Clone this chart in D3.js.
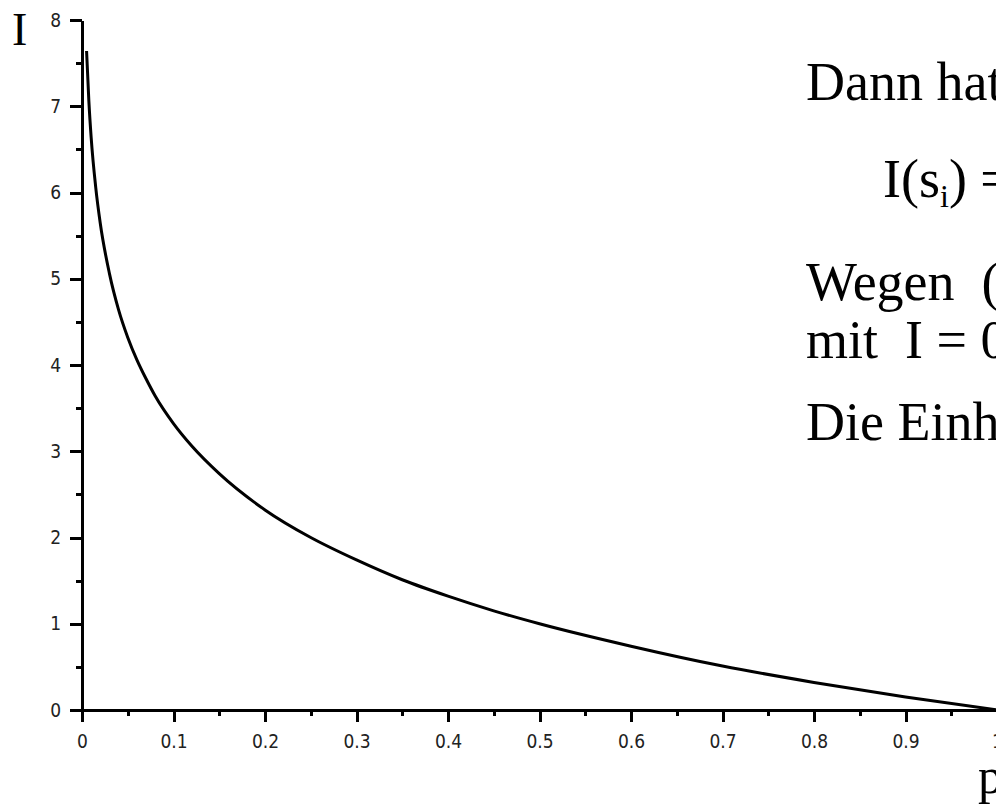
<!DOCTYPE html>
<html>
<head>
<meta charset="utf-8">
<script src="https://cdn.jsdelivr.net/npm/d3@7"></script>
<style>
body { margin: 0; background: #fff; }
.tick text { font-family: "DejaVu Sans Condensed", "DejaVu Sans", sans-serif; font-size: 19px; fill: #222; }
.serif { font-family: "Liberation Serif", "Times New Roman", serif; fill: #000; }
</style>
</head>
<body>
<svg id="chart" width="996" height="804"></svg>
<script>
// values (p, I)
var pValues = [0.005, 0.0075, 0.01, 0.015, 0.02, 0.03, 0.04, 0.05, 0.06, 0.07, 0.08, 0.1, 0.12, 0.15, 0.2, 0.25, 0.3, 0.35, 0.4, 0.45, 0.5, 0.6, 0.7, 0.8, 0.9, 1.0];
var infoValues = [7.64, 7.06, 6.64, 6.06, 5.64, 5.06, 4.64, 4.32, 4.06, 3.84, 3.64, 3.32, 3.06, 2.74, 2.32, 2.0, 1.74, 1.51, 1.32, 1.15, 1.0, 0.74, 0.51, 0.32, 0.15, 0];

var xTicks = [0, 0.1, 0.2, 0.3, 0.4, 0.5, 0.6, 0.7, 0.8, 0.9, 1];
var xMinorTicks = [0.05, 0.15, 0.25, 0.35, 0.45, 0.55, 0.65, 0.75, 0.85, 0.95];
var yTicks = [0, 1, 2, 3, 4, 5, 6, 7, 8];
var yMinorTicks = [0.5, 1.5, 2.5, 3.5, 4.5, 5.5, 6.5, 7.5];

var xTitle = "p";
var yTitle = "I";
// slide text on the right, cut off by the picture edge
var slideLines = ["Dann hat", "Wegen  (", "mit  I = 0", "Die Einh"];
var formulaParts = ["I(s", "i", ") ="];

var svg = d3.select("#chart");
svg.append("rect").attr("width", 996).attr("height", 804).attr("fill", "#fff");

var x = d3.scaleLinear().domain([0, 1]).range([82, 997]);
var y = d3.scaleLinear().domain([0, 8]).range([710, 20]);

// minor ticks first
svg.append("g")
  .attr("transform", "translate(0,710)")
  .call(d3.axisBottom(x).tickValues(xMinorTicks).tickSize(6).tickFormat(""))
  .call(function(g) { g.select(".domain").remove(); });
svg.append("g")
  .attr("transform", "translate(82,0)")
  .call(d3.axisLeft(y).tickValues(yMinorTicks).tickSize(6).tickFormat(""))
  .call(function(g) { g.select(".domain").remove(); });

var xAxis = svg.append("g")
  .attr("transform", "translate(0,710)")
  .call(d3.axisBottom(x).tickValues(xTicks).tickSize(12).tickSizeOuter(0).tickPadding(13)
    .tickFormat(function(d) { return d === 0 || d === 1 ? String(d) : d3.format(".1f")(d); }));
xAxis.select(".domain").attr("d", "M82,0H1000");

var yAxis = svg.append("g")
  .attr("transform", "translate(82,0)")
  .call(d3.axisLeft(y).tickValues(yTicks).tickSize(12).tickSizeOuter(0).tickPadding(9));

svg.selectAll(".tick line").attr("stroke", "#000").attr("stroke-width", 3).attr("shape-rendering", "crispEdges");
svg.selectAll(".domain").attr("stroke", "#000").attr("stroke-width", 3).attr("shape-rendering", "crispEdges");

var pts = pValues.map(function(p, i) { return [p, infoValues[i]]; });
var line = d3.line()
  .x(function(d) { return x(d[0]); })
  .y(function(d) { return y(d[1]); })
  .curve(d3.curveMonotoneX);

svg.append("path")
  .datum(pts)
  .attr("d", line)
  .attr("fill", "none")
  .attr("stroke", "#000")
  .attr("stroke-width", 3);

// axis titles
svg.append("text").attr("class", "serif").attr("x", 12).attr("y", 45)
  .attr("font-size", 46).text(yTitle);
svg.append("text").attr("class", "serif").attr("x", 978).attr("y", 793)
  .attr("font-size", 50).text(xTitle);

// slide text
var lineY = [100, 300, 358, 440];
svg.selectAll(".slide")
  .data(slideLines)
  .enter()
  .append("text")
  .attr("class", "serif slide")
  .attr("x", 806)
  .attr("y", function(d, i) { return lineY[i]; })
  .attr("font-size", 54)
  .style("white-space", "pre")
  .text(function(d) { return d; });

var formula = svg.append("text").attr("class", "serif").attr("x", 883).attr("y", 197).attr("font-size", 54);
formula.append("tspan").text(formulaParts[0]);
formula.append("tspan").attr("font-size", 32).attr("dy", 10).text(formulaParts[1]);
formula.append("tspan").attr("dy", -10).text(formulaParts[2]);
</script>
</body>
</html>
